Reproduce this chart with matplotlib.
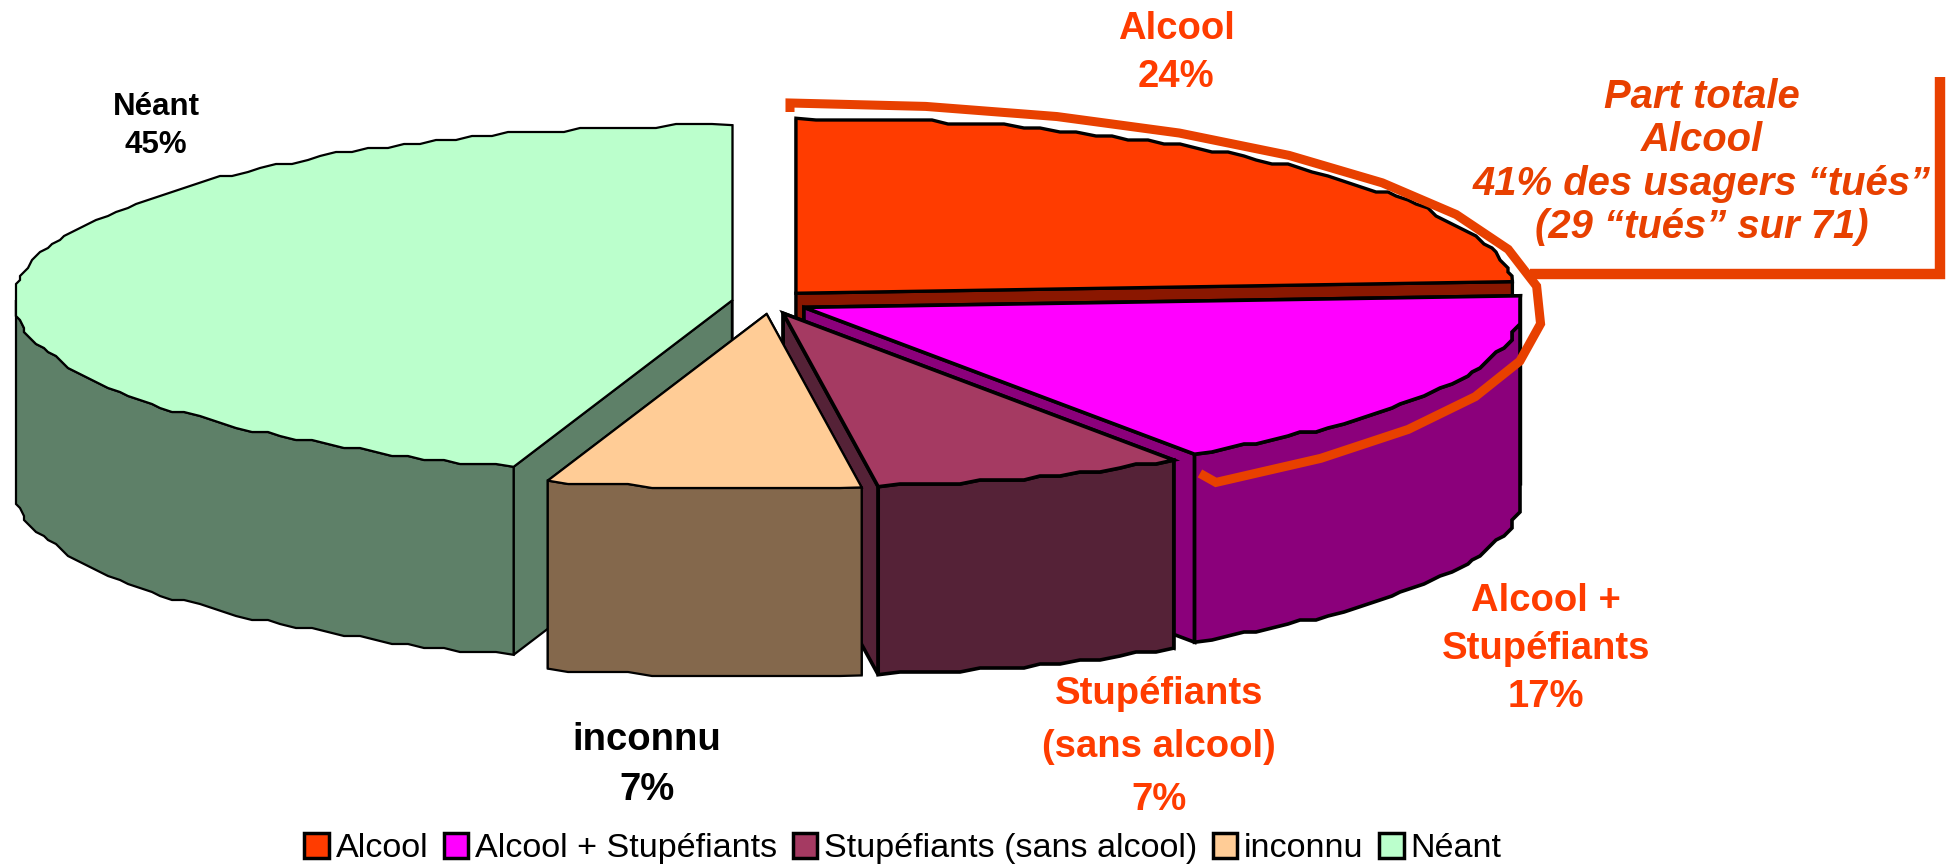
import numpy as np
import matplotlib
matplotlib.use('Agg')
from matplotlib import pyplot as plt
from matplotlib.patches import Polygon, Patch

plt.rcParams['font.family'] = ['Liberation Sans', 'DejaVu Sans']

categories = ['Alcool', 'Alcool + Stupéfiants', 'Stupéfiants (sans alcool)', 'inconnu', 'Néant']
# usagers tués, 71 in total (29 with alcohol, as the callout says)
values = [17, 12, 5, 5, 32]
top_colors = ['#FF3C00', '#FF00FF', '#A53A62', '#FFCC96', '#BBFFCC']
side_colors = ['#8A1700', '#8B007B', '#552237', '#84684C', '#5E8068']
slice_labels = ['Alcool\n24%', 'Alcool +\nStupéfiants\n17%', 'Stupéfiants\n(sans alcool)\n7%', 'inconnu\n7%', 'Néant\n45%']
total_label = 'Part totale\nAlcool\n41% des usagers “tués”\n(29 “tués” sur 71)'

# pie geometry in figure pixels
cx, cy = 770, 302
rx, ry = 718, 175
depth = 188
explode_x, explode_y = 38, 12
draw_order = [0, 1, 2, 4, 3]
edge_widths = [2.4, 2.6, 2.6, 1.6, 1.6]

fig = plt.figure(figsize=(19.5, 8.65), dpi=100)
ax = fig.add_axes([0, 0, 1, 1])
ax.set_xlim(0, 1950)
ax.set_ylim(865, 0)
ax.axis('off')


def rim(x0, y0, a0, a1):
    n = max(int((a1 - a0) / 1.5), 2)
    ang = np.linspace(a0, a1, n)
    t = np.radians(ang)
    pts = np.column_stack([x0 + rx * np.sin(t), y0 - ry * np.cos(t)])
    # the original outline is stepped, not smooth
    pts[1:-1] = np.round(pts[1:-1] / 4) * 4
    return ang, pts


edges = np.concatenate([[0], np.cumsum(values)]) * 360.0 / sum(values)
for i in draw_order:
    a0, a1 = edges[i], edges[i + 1]
    mid = np.radians((a0 + a1) / 2)
    x0 = cx + explode_x * np.sin(mid)
    y0 = cy - explode_y * np.cos(mid)
    lw = edge_widths[i]
    ang, arc = rim(x0, y0, a0, a1)
    apex = np.array([x0, y0])
    down = np.array([0, depth])
    # the two cut faces
    for p in (arc[0], arc[-1]):
        face = np.array([apex, p, p + down, apex + down])
        ax.add_patch(Polygon(face, closed=True, fc=side_colors[i], ec='black', lw=lw))
    # outer wall, only the front half of the ellipse shows
    w = arc[(ang >= 88) & (ang <= 272)]
    if len(w) > 1:
        ax.add_patch(Polygon(np.vstack([w, w[::-1] + down]), closed=True, fc=side_colors[i], ec='black', lw=lw))
    ax.add_patch(Polygon(np.vstack([apex, arc]), closed=True, fc=top_colors[i], ec='black', lw=lw))

# callout round the alcohol share
line_color = '#E84000'
t = np.radians(np.linspace(0, 145.5, 15))
hx = 790 + 752 * np.sin(t)
hy = 311 - 208 * np.cos(t)
ax.plot(np.r_[hx[0], hx, hx[-1] - 16], np.r_[hy[0] + 9, hy, hy[-1] - 9], color=line_color, lw=6.5,
        solid_joinstyle='miter', solid_capstyle='butt')
ax.plot([1530, 1940, 1940], [274, 274, 77], color=line_color, lw=7.5, solid_joinstyle='miter', solid_capstyle='butt')

label_red = '#FF3C00'
ax.text(1176, 53, slice_labels[0], color=label_red, fontsize=27.5, fontweight='bold', ha='center', va='center', linespacing=1.42)
ax.text(1546, 649, slice_labels[1], color=label_red, fontsize=27.5, fontweight='bold', ha='center', va='center', linespacing=1.44)
ax.text(1159, 747, slice_labels[2], color=label_red, fontsize=27.5, fontweight='bold', ha='center', va='center', linespacing=1.6)
ax.text(647, 765, slice_labels[3], color='black', fontsize=27.5, fontweight='bold', ha='center', va='center', linespacing=1.48)
ax.text(156, 126, slice_labels[4], color='black', fontsize=22.5, fontweight='bold', ha='center', va='center', linespacing=1.32)
ax.text(1702, 162, total_label, color=line_color, fontsize=28.8, fontweight='bold', style='italic', ha='center', va='center', linespacing=1.18)

handles = [Patch(facecolor=c, edgecolor='black', linewidth=2.5) for c in top_colors]
fig.legend(handles, categories, loc='lower center', bbox_to_anchor=(0.463, -0.027), ncol=5, frameon=False, fontsize=24.6,
           handlelength=0.72, handleheight=0.72, handletextpad=0.2, columnspacing=0.45, borderpad=0.2)

fig.savefig('out.png', dpi=100)
